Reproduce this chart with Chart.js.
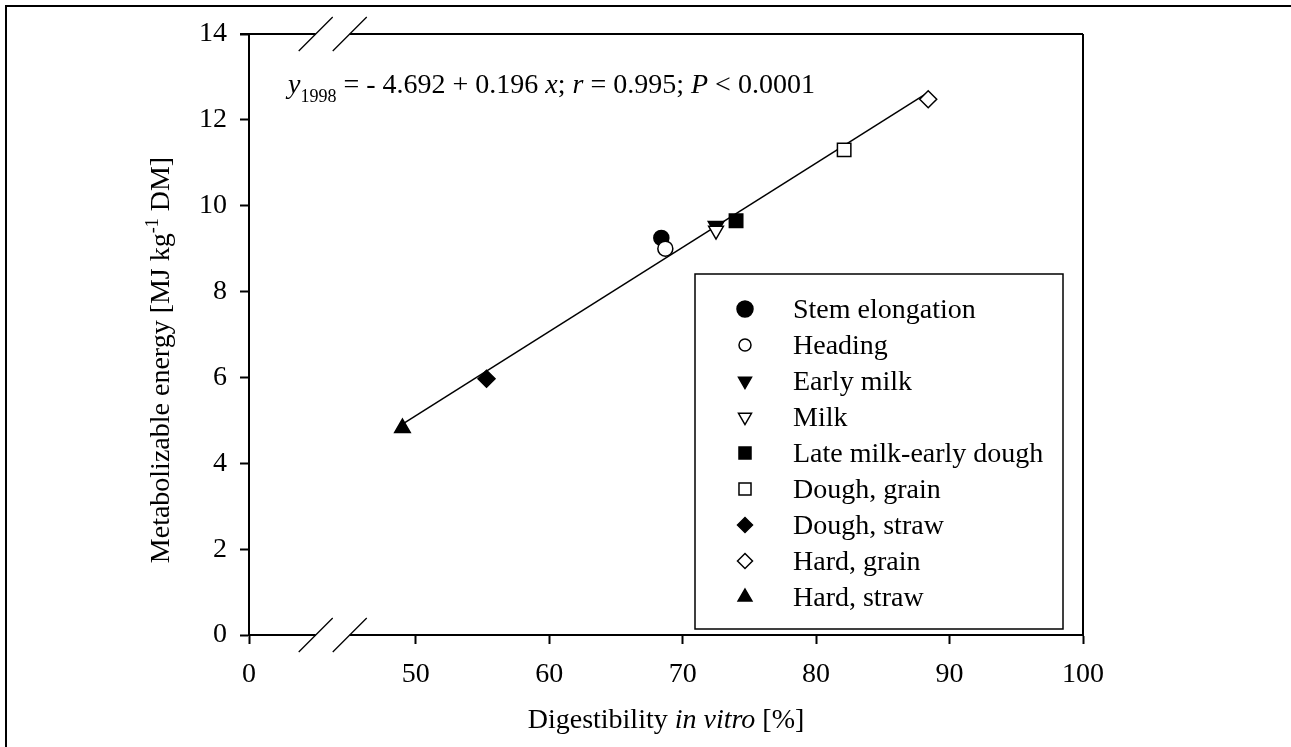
<!doctype html>
<html>
<head>
  <meta charset="utf-8" />
  <title>Metabolizable energy vs digestibility</title>
  <script src="https://cdn.jsdelivr.net/npm/chart.js"></script>
  <style>
    body { margin: 0; background: #fff; }
    #wrap { position: relative; width: 1291px; height: 747px; }
  </style>
</head>
<body>
  <div id="wrap"><canvas id="chart" width="1291" height="747"></canvas></div>

  <script>
    // data
    const stages = ["Stem elongation", "Heading", "Early milk", "Milk", "Late milk-early dough",
                    "Dough, grain", "Dough, straw", "Hard, grain", "Hard, straw"];
    const digestibility = [68.4, 68.7, 72.5, 72.5, 74.0, 82.1, 55.3, 88.4, 49.0];
    const energy = [9.25, 9.0, 9.53, 9.42, 9.65, 11.3, 5.97, 12.48, 4.82];
    const fitX = [49.0, 88.4];
    const fitY = [4.91, 12.64];
    const xTickValues = [37.5, 50, 60, 70, 80, 90, 100];   // 37.5 stands in for 0 (broken axis)
    const xTickLabels = ["0", "50", "60", "70", "80", "90", "100"];
    const yTickValues = [0, 2, 4, 6, 8, 10, 12, 14];
    const breakFrom = 42.5, breakTo = 45.05;

    // marker look per stage (plot radius, legend radius)
    const markers = [
      { style: "circle",   rot: 0,   fill: true,  r: 7.5, lr: 8 },
      { style: "circle",   rot: 0,   fill: false, r: 7.5, lr: 6 },
      { style: "triangle", rot: 180, fill: true,  r: 9,   lr: 7.5 },
      { style: "triangle", rot: 180, fill: false, r: 8.5, lr: 7.5 },
      { style: "rect",     rot: 0,   fill: true,  r: 9.5, lr: 8.5 },
      { style: "rect",     rot: 0,   fill: false, r: 9.5, lr: 8.5 },
      { style: "rectRot",  rot: 0,   fill: true,  r: 8.5, lr: 7.5 },
      { style: "rectRot",  rot: 0,   fill: false, r: 8.5, lr: 7.5 },
      { style: "triangle", rot: 0,   fill: true,  r: 9,   lr: 8 }
    ];

    const FAMILY = "'Liberation Serif', 'Times New Roman', serif";
    const SIZE = 28;
    const fnt = (size, italic) => (italic ? "italic " : "") + size + "px " + FAMILY;

    const equation = [
      { t: "y", i: true }, { t: "1998", s: 18, dy: 9 }, { t: " = - 4.692 + 0.196 " },
      { t: "x", i: true }, { t: "; " }, { t: "r", i: true }, { t: " = 0.995; " },
      { t: "P", i: true }, { t: " < 0.0001" }
    ];
    const xTitle = [{ t: "Digestibility " }, { t: "in vitro", i: true }, { t: " [%]" }];
    const yTitle = [{ t: "Metabolizable energy [MJ kg" }, { t: "-1", s: 18, dy: -11 }, { t: " DM]" }];

    function richWidth(ctx, parts) {
      let w = 0;
      parts.forEach(p => { ctx.font = fnt(p.s || SIZE, p.i); w += ctx.measureText(p.t).width; });
      return w;
    }
    function drawRich(ctx, parts, x, y) {
      parts.forEach(p => {
        ctx.font = fnt(p.s || SIZE, p.i);
        ctx.fillText(p.t, x, y + (p.dy || 0));
        x += ctx.measureText(p.t).width;
      });
    }

    function legendMarker(ctx, m, x, y) {
      ctx.fillStyle = m.fill ? "#000" : "#fff";
      ctx.strokeStyle = "#000";
      ctx.lineWidth = 1.5;
      const opts = { pointStyle: m.style, rotation: m.rot, radius: m.lr, borderWidth: 1.5 };
      if (Chart.helpers && Chart.helpers.drawPoint) {
        Chart.helpers.drawPoint(ctx, opts, x, y);
      } else {
        ctx.beginPath();
        ctx.arc(x, y, m.lr, 0, Math.PI * 2);
        ctx.fill(); ctx.stroke();
      }
    }

    const decor = {
      id: "decor",
      afterDraw(chart) {
        const ctx = chart.ctx;
        const a = chart.chartArea;
        const xs = chart.scales.x;
        ctx.save();

        // outer frame (left + top)
        ctx.fillStyle = "#000";
        ctx.fillRect(5, 5, 2, 742);
        ctx.fillRect(5, 5, 1286, 2);

        // top and right of plot box
        ctx.strokeStyle = "#000";
        ctx.lineWidth = 2;
        ctx.beginPath();
        ctx.moveTo(a.left - 9, a.top); ctx.lineTo(a.right, a.top);
        ctx.moveTo(a.right, a.top); ctx.lineTo(a.right, a.bottom);
        ctx.stroke();

        // axis break at top and bottom
        const b1 = xs.getPixelForValue(breakFrom), b2 = xs.getPixelForValue(breakTo);
        ctx.fillStyle = "#fff";
        [a.top, a.bottom].forEach(yy => {
          ctx.fillRect(b1, yy - 3, b2 - b1, 6);
          ctx.lineWidth = 1.3;
          ctx.beginPath();
          [b1, b2].forEach(bx => { ctx.moveTo(bx - 17, yy + 17); ctx.lineTo(bx + 17, yy - 17); });
          ctx.stroke();
        });

        // legend box
        ctx.lineWidth = 1.5;
        ctx.strokeRect(695, 274, 368, 355);
        ctx.textBaseline = "alphabetic";
        ctx.textAlign = "left";
        stages.forEach((name, i) => {
          const base = 318 + i * 36;
          legendMarker(ctx, markers[i], 745, base - 9);
          ctx.fillStyle = "#000";
          ctx.font = fnt(SIZE, false);
          ctx.fillText(name, 793, base);
        });

        // regression equation
        ctx.fillStyle = "#000";
        drawRich(ctx, equation, 288, 93);

        // x title
        const xw = richWidth(ctx, xTitle);
        drawRich(ctx, xTitle, (a.left + a.right) / 2 - xw / 2, 728);

        // y title
        const yw = richWidth(ctx, yTitle);
        ctx.translate(169, 360);
        ctx.rotate(-Math.PI / 2);
        drawRich(ctx, yTitle, -yw / 2, 0);

        ctx.restore();
      }
    };

    const datasets = stages.map((name, i) => ({
      label: name,
      data: [{ x: digestibility[i], y: energy[i] }],
      pointStyle: markers[i].style,
      rotation: markers[i].rot,
      pointRadius: markers[i].r,
      pointHoverRadius: markers[i].r,
      pointBackgroundColor: markers[i].fill ? "#000" : "#fff",
      pointBorderColor: "#000",
      pointBorderWidth: 1.5,
      order: 20 - i
    }));
    datasets.push({
      label: "fit",
      type: "line",
      data: fitX.map((x, i) => ({ x: x, y: fitY[i] })),
      borderColor: "#000",
      borderWidth: 1.5,
      pointRadius: 0,
      fill: false,
      order: 100
    });

    new Chart(document.getElementById("chart"), {
      type: "scatter",
      data: { datasets },
      plugins: [decor],
      options: {
        responsive: false,
        animation: false,
        devicePixelRatio: 1,
        layout: { padding: { left: 0, right: 1291 - 1083, top: 34, bottom: 0 } },
        plugins: { legend: { display: false }, tooltip: { enabled: false } },
        scales: {
          x: {
            type: "linear", min: 37.5, max: 100,
            afterBuildTicks: s => { s.ticks = xTickValues.map(v => ({ value: v })); },
            afterFit: s => { s.height = 112; },
            ticks: {
              callback: (v, i) => xTickLabels[i],
              color: "#000", font: { family: FAMILY, size: SIZE },
              padding: 14, maxRotation: 0, autoSkip: false
            },
            grid: { drawOnChartArea: false, tickLength: 9, tickWidth: 2, tickColor: "#000" },
            border: { color: "#000", width: 2 }
          },
          y: {
            type: "linear", min: 0, max: 14,
            afterBuildTicks: s => { s.ticks = yTickValues.map(v => ({ value: v })); },
            afterFit: s => { s.width = 249; },
            ticks: { color: "#000", font: { family: FAMILY, size: SIZE }, padding: 13 },
            grid: { drawOnChartArea: false, tickLength: 9, tickWidth: 2, tickColor: "#000" },
            border: { color: "#000", width: 2 }
          }
        }
      }
    });
  </script>
</body>
</html>
